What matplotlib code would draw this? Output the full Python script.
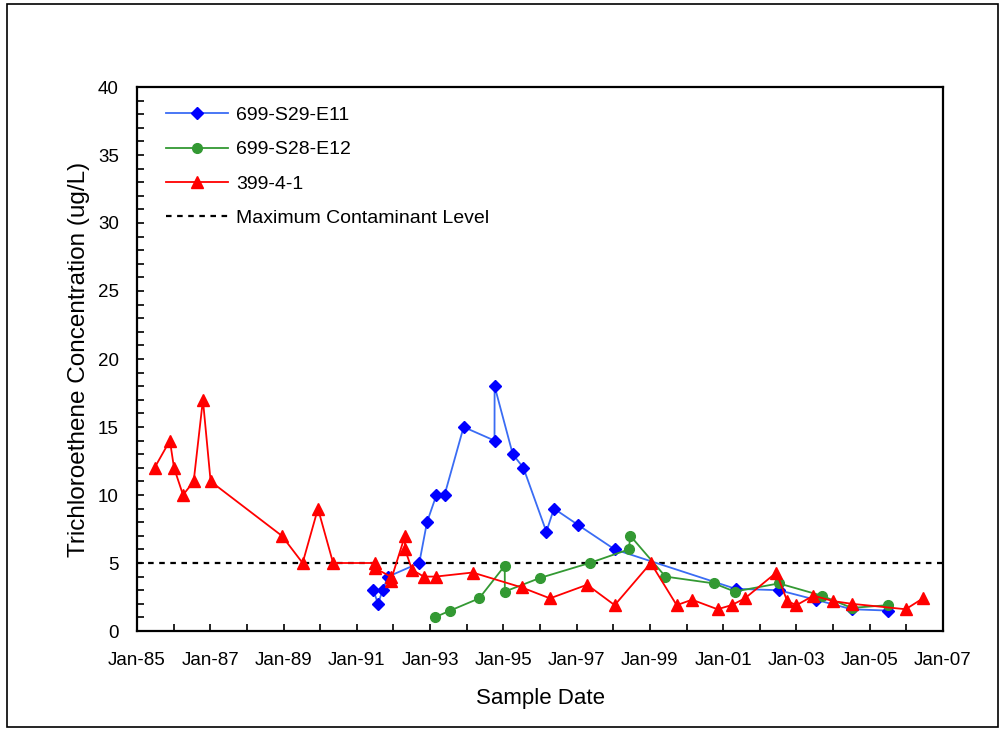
import numpy as np
import pandas as pd
import matplotlib
matplotlib.use("Agg")
import matplotlib.pyplot as plt
import matplotlib.dates as mdates
from matplotlib.patches import Rectangle

plt.rcParams['font.family'] = ['Liberation Sans', 'DejaVu Sans']

# --- data ---
# 699-S29-E11
s29_dates = ["1991-06-15", "1991-08-01", "1991-09-15", "1991-11-10", "1992-09-15",
             "1992-12-01", "1993-03-05", "1993-05-25", "1993-12-01", "1994-10-05",
             "1994-10-06", "1995-04-05", "1995-07-20", "1996-03-05", "1996-05-20",
             "1997-01-15", "1998-01-15", "2001-05-05", "2002-07-10", "2003-07-10",
             "2004-07-05", "2005-07-05"]
s29_tce = [3.0, 2.0, 3.0, 4.0, 5.0, 8.0, 10.0, 10.0, 15.0, 14.0,
           18.0, 13.0, 12.0, 7.3, 9.0, 7.8, 6.0, 3.1, 3.0, 2.3,
           1.6, 1.5]

# 699-S28-E12
s28_dates = ["1993-02-15", "1993-07-20", "1994-05-05", "1995-01-15", "1995-01-16",
             "1996-01-01", "1997-05-10", "1998-06-05", "1998-06-20", "1999-06-05",
             "2000-10-01", "2001-04-25", "2002-07-10", "2003-09-10", "2004-07-05",
             "2005-07-01"]
s28_tce = [1.0, 1.5, 2.4, 4.8, 2.9, 3.9, 5.0, 6.0, 7.0, 4.0,
           3.5, 2.9, 3.5, 2.6, 1.7, 1.9]

# 399-4-1
w399_dates = ["1985-06-25", "1985-11-25", "1986-01-05", "1986-04-05", "1986-07-20",
              "1986-10-20", "1987-01-05", "1988-12-15", "1989-07-10", "1989-12-10",
              "1990-05-10", "1991-07-05", "1991-07-06", "1991-12-05", "1991-12-06",
              "1992-04-25", "1992-04-26", "1992-07-05", "1992-10-30", "1993-02-25",
              "1994-03-01", "1995-07-05", "1996-04-10", "1997-04-15", "1998-01-15",
              "1999-01-10", "1999-09-25", "2000-02-25", "2000-11-05", "2001-03-25",
              "2001-08-05", "2002-06-15", "2002-10-01", "2003-01-01", "2003-06-20",
              "2004-01-01", "2004-07-05", "2005-12-25", "2006-06-15"]
w399_tce = [12.0, 14.0, 12.0, 10.0, 11.0, 17.0, 11.0, 7.0, 5.0, 9.0,
            5.0, 5.0, 4.6, 4.0, 3.7, 7.0, 6.0, 4.5, 4.0, 4.0,
            4.3, 3.2, 2.4, 3.4, 1.9, 5.0, 1.9, 2.3, 1.6, 1.9,
            2.4, 4.3, 2.2, 1.9, 2.6, 2.2, 2.0, 1.6, 2.4]

mcl = 5.0

fig = plt.figure(figsize=(10, 7.29), dpi=100)
ax = fig.add_axes([0.137, 1 - 631 / 729, 0.806, 544 / 729])

ax.plot(pd.to_datetime(s29_dates), s29_tce, color='#3a6cf4', lw=1.3,
        marker='D', ms=6, mfc='#0000ff', mec='#0000ff', label='699-S29-E11', zorder=3)
ax.plot(pd.to_datetime(s28_dates), s28_tce, color='#339933', lw=1.3,
        marker='o', ms=7, mfc='#339933', mec='#339933', label='699-S28-E12', zorder=3)
ax.plot(pd.to_datetime(w399_dates), w399_tce, color='#ff0000', lw=1.3,
        marker='^', ms=9, mfc='#ff0000', mec='#ff0000', label='399-4-1', zorder=4)
ax.axhline(mcl, color='black', lw=1.6, ls=(0, (2.5, 2.5)),
           label='Maximum Contaminant Level', zorder=2)

ax.set_xlim(pd.Timestamp("1985-01-01"), pd.Timestamp("2007-01-01"))
ax.set_ylim(0, 40)
ax.set_xticks(pd.date_range("1985-01-01", "2007-01-01", freq="24MS"))
ax.set_xticks(pd.date_range("1985-01-01", "2007-01-01", freq="12MS"), minor=True)
ax.xaxis.set_major_formatter(mdates.DateFormatter('%b-%y'))
ax.set_yticks(np.arange(0, 41, 5))
ax.set_yticks(np.arange(0, 41, 1), minor=True)
ax.tick_params(which='both', direction='in', length=5, width=1.2, labelsize=13.5)
ax.tick_params(axis='x', pad=15)
ax.tick_params(axis='y', pad=13)
for sp in ax.spines.values():
    sp.set_linewidth(1.6)

ax.set_xlabel('Sample Date', fontsize=16, labelpad=14)
ax.set_ylabel('Trichloroethene Concentration (ug/L)', fontsize=17.5, labelpad=6)

ax.legend(loc='upper left', frameon=False, fontsize=14, handlelength=3.2,
          labelspacing=0.86, borderaxespad=0.4, handletextpad=0.4,
          borderpad=0.6, bbox_to_anchor=(0.012, 1.0))

fig.patches.append(Rectangle((0.007, 0.003), 0.991, 0.992, transform=fig.transFigure,
                             fill=False, edgecolor='black', lw=1.2))

fig.savefig('out.png', dpi=100)
